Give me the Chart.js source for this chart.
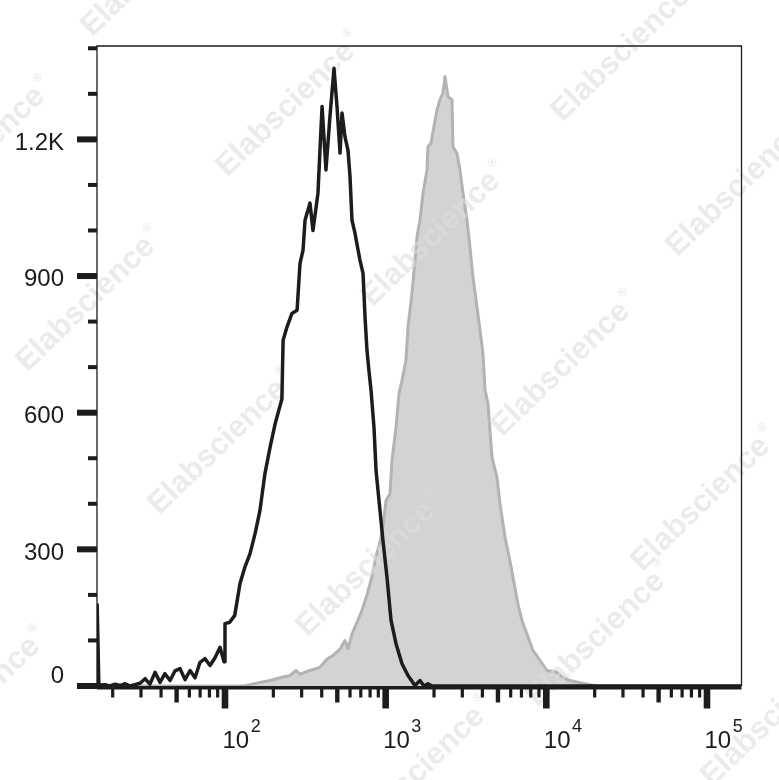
<!DOCTYPE html>
<html>
<head>
<meta charset="utf-8">
<title>Flow histogram</title>
<script src="https://cdn.jsdelivr.net/npm/chart.js@4.4.1/dist/chart.umd.min.js"></script>
<style>
  html, body { margin: 0; padding: 0; background: #ffffff; }
  #wrap { width: 779px; height: 780px; }
</style>
</head>
<body>
<div id="wrap"><canvas id="histo" width="779" height="780"></canvas></div>
<script>
// isotype control (black line): fluorescence intensity / event count
const controlX = [16.0, 16.4, 16.7, 17.9, 19.2, 20.7, 22.2, 23.9, 25.6, 27.5, 29.6, 31.8, 34.1, 36.7, 39.4, 42.3, 45.5, 48.8, 52.5, 56.4,
  60.6, 65.1, 69.9, 75.1, 80.7, 86.7, 93.1, 98.6, 100, 107, 115, 124, 133, 143, 154, 165, 177, 191, 205, 220,
  226, 230, 243, 261, 281, 293, 306, 315, 338, 353, 379, 390, 402, 425, 450, 477, 498, 520, 535, 558, 583,
  600, 617, 644, 692, 723, 744, 765, 788, 811, 846, 871, 922, 962, 1019, 1080, 1160, 1264, 1377, 1522, 1635,
  1732, 1834, 1943, 164000];
const controlY = [181, 0, 2, 3, 0, 4, 1, 5, 0, 3, 6, 16, 4, 30, 8, 27, 12, 33, 38, 14,
  34, 18, 52, 60, 45, 62, 85, 53, 137, 140, 155, 225, 261, 290, 335, 385, 465, 525, 575, 615,
  630, 759, 788, 818, 825, 928, 957, 1023, 1060, 1000, 1082, 1176, 1272, 1133, 1250, 1356, 1272, 1170, 1258, 1206, 1176,
  1118, 1023, 994, 935, 906, 810, 737, 690, 649, 568, 473, 385, 319, 239, 144, 93, 49, 23, 1, 12,
  0, 5, 0, 0];

// stained sample (grey filled)
const stainedX = [16.0, 129, 143, 165, 191, 220, 254, 277, 293, 338, 390, 431, 470, 520, 558, 583, 617, 663, 712, 765,
  822, 871, 922, 962, 1005, 1064, 1095, 1160, 1211, 1264, 1338, 1377, 1458, 1522, 1567, 1635, 1708, 1808, 1834, 1915,
  1999, 2087, 2178, 2274, 2341, 2443, 2587, 2625, 2780, 2901, 3029, 3208, 3348, 3495, 3702, 3865, 4035, 4152, 4335, 4591,
  4932, 5148, 5529, 5939, 6200, 6660, 7054, 7578, 8260, 9132, 10100, 11650, 12700, 14040, 16200, 18690, 21580, 164000];
const stainedY = [0, 0, 3, 8, 12, 18, 23, 34, 26, 34, 41, 59, 67, 81, 100, 82, 114, 140, 166, 200,
  240, 285, 315, 350, 407, 422, 495, 568, 642, 671, 715, 788, 862, 935, 986, 1023, 1082, 1133, 1184, 1192,
  1229, 1265, 1287, 1302, 1338, 1294, 1287, 1184, 1169, 1133, 1082, 1023, 964, 898, 832, 781, 730, 650, 620, 502,
  458, 400, 327, 275, 239, 180, 144, 114, 78, 56, 34, 30, 19, 12, 7, 3, 0, 0];

// axes
const xMin = 15.97, xMax = 164000;
const yMin = 0, yMax = 1405;
const yLabelValues = [0, 300, 600, 900, 1200];
const yLabelTexts = ['0', '300', '600', '900', '1.2K'];
const yMinorTicks = [100, 200, 400, 500, 700, 800, 1000, 1100, 1300, 1400];
const xDecades = [100, 1000, 10000, 100000];
const xDecadeExponents = ['2', '3', '4', '5'];
const xMinorBases = [10, 100, 1000, 10000];
const xMinorMultiples = [2, 3, 4, 5, 6, 7, 8, 9];

// watermark centres (approx.)
const markCenters = [[290,105],[625,50],[435,235],[740,185],[90,300],[565,365],[222,443],
  [705,500],[370,565],[600,635],[420,770],[775,715],[-25,700],[-20,150],[155,-35]];

const FONT = '"Liberation Sans", Arial, sans-serif';
const INK = '#1c1c1c';

function toPoints(xs, ys){ return xs.map((x,i)=>({x:x, y:ys[i]})); }

function drawWatermarks(ctx){
    ctx.save();
    ctx.fillStyle = 'rgba(222,222,222,0.6)';
    ctx.textAlign = 'center';
    ctx.textBaseline = 'middle';
    markCenters.forEach(c=>{
        ctx.save();
        ctx.translate(c[0], c[1]);
        ctx.rotate(-44*Math.PI/180);
        ctx.font = 'bold 31px ' + FONT;
        ctx.fillText('Elabscience', -6, 0);
        let w = ctx.measureText('Elabscience').width;
        ctx.font = 'bold 12px ' + FONT;
        ctx.fillText('®', w/2 + 2, -12);
        ctx.restore();
    });
    ctx.restore();
}

const flowAxes = {
    id: 'flowAxes',
    afterDatasetDraw(chart, args){
        if (args.index === 1) drawWatermarks(chart.ctx);
    },
    afterDraw(chart){
        const ctx = chart.ctx, a = chart.chartArea;
        const xs = chart.scales.x, ys = chart.scales.y;
        ctx.save();
        ctx.fillStyle = INK;
        ctx.strokeStyle = INK;
        // frame
        ctx.lineWidth = 1.3;
        ctx.beginPath();
        ctx.moveTo(a.left, a.bottom + 2);
        ctx.lineTo(a.left, a.top);
        ctx.lineTo(a.right, a.top);
        ctx.lineTo(a.right, a.bottom);
        ctx.stroke();
        ctx.fillRect(a.left, a.bottom, a.right - a.left, 3.5);

        // y ticks
        yMinorTicks.forEach(v=>{
            const y = ys.getPixelForValue(v);
            ctx.fillRect(a.left - 9, y - 2, 9, 4);
        });
        ctx.font = '24px ' + FONT;
        ctx.textAlign = 'right';
        ctx.textBaseline = 'alphabetic';
        yLabelValues.forEach((v,i)=>{
            const y = ys.getPixelForValue(v);
            ctx.fillRect(a.left - 20, y - 3, 20, 6);
            const base = v === 0 ? y - 3.3 : y + 10.2;
            ctx.fillText(yLabelTexts[i], 64, base);
        });

        // x ticks
        const tickTop = a.bottom + 2.5;
        xMinorBases.forEach(b=>{
            xMinorMultiples.forEach(m=>{
                const x = xs.getPixelForValue(b*m);
                if (x < a.left || x > a.right) return;
                if (m === 5) ctx.fillRect(x - 2.2, tickTop, 4.4, 14);
                else ctx.fillRect(x - 1.6, tickTop, 3.2, 9);
            });
        });
        xDecades.forEach((v,i)=>{
            const x = xs.getPixelForValue(v);
            ctx.fillRect(x - 3.3, tickTop, 6.6, 20);
            ctx.textAlign = 'left';
            ctx.font = '24px ' + FONT;
            ctx.fillText('10', x - 2.5, 748);
            const w = ctx.measureText('10').width;
            ctx.font = '18px ' + FONT;
            ctx.fillText(xDecadeExponents[i], x - 2.5 + w + 1.5, 732);
        });
        ctx.restore();
    }
};

new Chart(document.getElementById('histo'), {
    type: 'line',
    data: {
        datasets: [
            {
                label: 'Isotype',
                data: toPoints(controlX, controlY),
                borderColor: INK,
                borderWidth: 3.5,
                pointRadius: 0,
                fill: false,
                tension: 0,
                borderJoinStyle: 'round',
                order: 0
            },
            {
                label: 'Stained',
                data: toPoints(stainedX, stainedY),
                borderColor: '#b3b3b3',
                backgroundColor: '#d3d3d3',
                borderWidth: 3,
                pointRadius: 0,
                fill: 'origin',
                tension: 0,
                borderJoinStyle: 'round',
                order: 1
            }
        ]
    },
    options: {
        responsive: false,
        animation: false,
        events: [],
        layout: { padding: { left: 97, right: 37.5, top: 46, bottom: 94 } },
        plugins: { legend: { display: false }, tooltip: { enabled: false } },
        scales: {
            x: { type: 'logarithmic', min: xMin, max: xMax, display: false },
            y: { type: 'linear', min: yMin, max: yMax, display: false }
        }
    },
    plugins: [flowAxes]
});
</script>
</body>
</html>
